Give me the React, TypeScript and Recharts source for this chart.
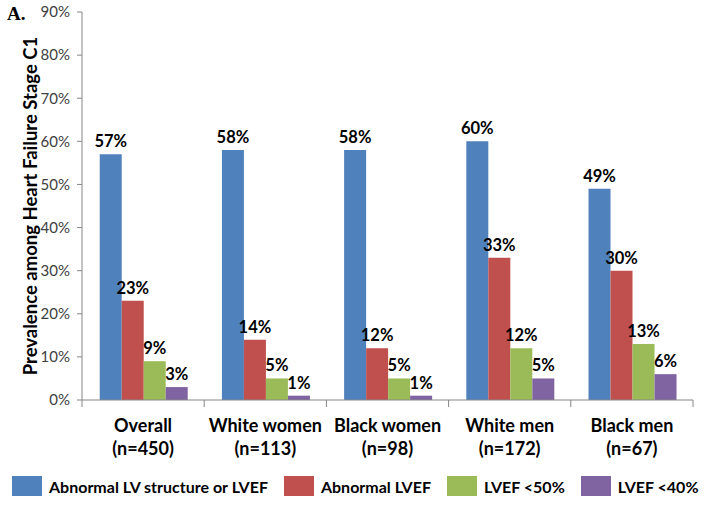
import React from 'react';
import { BarChart, Bar, XAxis, YAxis, LabelList } from 'recharts';

const CATEGORIES = ['Overall\n(n=450)', 'White women\n(n=113)', 'Black women\n(n=98)', 'White men\n(n=172)', 'Black men\n(n=67)'];
const ABNORMAL_LV = [57, 58, 58, 60, 49];
const ABNORMAL_LVEF = [23, 14, 12, 33, 30];
const LVEF_50 = [9, 5, 5, 12, 13];
const LVEF_40 = [3, 1, 1, 5, 6];
const Y_TICKS = [0, 10, 20, 30, 40, 50, 60, 70, 80, 90];

const SERIES = [
  { key: 'lv', name: 'Abnormal LV structure or LVEF', color: '#4F81BD', values: ABNORMAL_LV },
  { key: 'lvef', name: 'Abnormal LVEF', color: '#C0504D', values: ABNORMAL_LVEF },
  { key: 'l50', name: 'LVEF <50%', color: '#9BBB59', values: LVEF_50 },
  { key: 'l40', name: 'LVEF <40%', color: '#8064A2', values: LVEF_40 },
];

const data = CATEGORIES.map((c, i) => {
  const row: Record<string, any> = { cat: c };
  SERIES.forEach(s => { row[s.key] = s.values[i]; });
  return row;
});

const AXIS = '#868686';

// category label in two lines + tick marks on the band edges
const CatTick = (props: any) => {
  const { x, y, payload, index } = props;
  const half = payload.offset ?? 611 / CATEGORIES.length / 2;
  const [l1, l2] = String(payload.value).split('\n');
  return (
    <g>
      <line x1={x - half} x2={x - half} y1={y} y2={y + 7} stroke={AXIS} />
      {index === CATEGORIES.length - 1 && <line x1={x + half} x2={x + half} y1={y} y2={y + 7} stroke={AXIS} />}
      <text x={x} y={y + 32} textAnchor="middle" fontSize={18} fontWeight="bold" fill="#000">{l1}</text>
      <text x={x} y={y + 55} textAnchor="middle" fontSize={18} fontWeight="bold" fill="#000">{l2}</text>
    </g>
  );
};

export default function App() {
  return (
    <div style={{ position: 'absolute', left: 0, top: 0, width: 704, height: 507, background: '#fff', fontFamily: 'Lato' }}>
      <div style={{ position: 'absolute', left: 7, top: 3, fontFamily: 'Liberation Serif', fontWeight: 'bold', fontSize: 19 }}>A.</div>
      <BarChart width={704} height={507} data={data} margin={{ top: 12, right: 11, left: 0, bottom: 0 }}
        barCategoryGap="14.5%" barGap={0}>
        <XAxis dataKey="cat" height={107} interval={0} tickSize={0} tickMargin={0} stroke={AXIS}
          tickLine={false} tick={<CatTick />} />
        <YAxis width={82} domain={[0, 90]} ticks={Y_TICKS} interval={0} tickFormatter={(v: number) => `${v}%`}
          tickSize={5} tickMargin={7} stroke={AXIS} tick={{ fill: '#404040', fontSize: 15 }}
          label={{
            content: () => (
              <text x={30} y={206} transform="rotate(-90, 30, 206)" textAnchor="middle" dominantBaseline="central"
                fontSize={18.5} fontWeight="bold" fill="#000">Prevalence among Heart Failure Stage C1</text>
            ),
          }} />
        {SERIES.map(s => (
          <Bar key={s.key} dataKey={s.key} name={s.name} fill={s.color} isAnimationActive={false}>
            <LabelList dataKey={s.key} position="top" offset={7} formatter={(v: any) => `${v}%`}
              style={{ fontSize: 16.5, fontWeight: 'bold', fill: '#000' }} />
          </Bar>
        ))}
      </BarChart>
      <div style={{ position: 'absolute', left: 12, top: 476, display: 'flex', alignItems: 'center', whiteSpace: 'nowrap' }}>
        {SERIES.map(s => (
          <div key={s.key} style={{ display: 'flex', alignItems: 'center', marginRight: 16, flexShrink: 0 }}>
            <div style={{ width: 30, height: 20, background: s.color, marginRight: 7 }} />
            <span style={{ fontSize: 16, fontWeight: 'bold', color: '#000' }}>{s.name}</span>
          </div>
        ))}
      </div>
    </div>
  );
}
